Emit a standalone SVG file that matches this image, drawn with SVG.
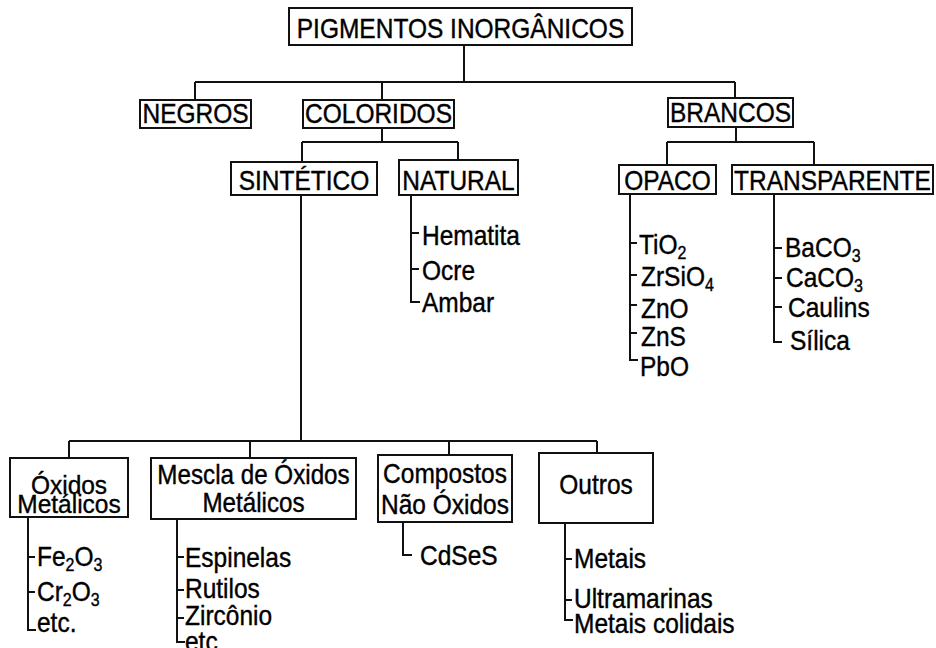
<svg xmlns="http://www.w3.org/2000/svg" width="936" height="648" viewBox="0 0 936 648">
<style>
.box{fill:#fff;stroke:#111;stroke-width:2}
.ln{fill:none;stroke:#111;stroke-width:2}
text{font-family:"Liberation Sans",Arial,sans-serif;font-size:24.5px;fill:#000;stroke:#000;stroke-width:0.35}
.c{text-anchor:middle}
.s{font-size:16px}
</style>
<rect width="936" height="648" fill="#fff"/>
<g id="connectors" class="ln">
<path d="M464,45V82M195,82H735M195,82V100M382,82V100M735,82V98"/>
<path d="M382,128V142M302,142H458M302,142V162M458,142V160"/>
<path d="M736,127V142M667,142H814M667,142V165M814,142V165"/>
<path d="M411,195V302H420M411,233H419M411,269H419"/>
<path d="M630,194V360H638M630,243H637M630,275H637M630,305H637M630,333H637"/>
<path d="M774,194V342H782M774,248H782M774,278H782M774,307H782"/>
<path d="M301,195V441M69,441H597M69,441V458M250,441V458M449,441V455M597,441V453"/>
<path d="M28,517V630H36M28,557H35M28,592H35"/>
<path d="M177,519V642H185M177,557H184M177,590H184M177,618H184"/>
<path d="M403,522V555H412"/>
<path d="M565,523V620H573M565,559H572M565,600H572"/>
</g>
<g id="pigmentos">
<rect class="box" x="289" y="8" width="343" height="37"/>
<text class="c" transform="matrix(1 0 0 1.13 460.5 38)">PIGMENTOS INORGÂNICOS</text>
</g>
<g id="negros">
<rect class="box" x="140" y="100" width="111" height="28"/>
<text class="c" transform="matrix(1 0 0 1.13 195.5 123)">NEGROS</text>
</g>
<g id="coloridos">
<rect class="box" x="303" y="100" width="151" height="28"/>
<text class="c" transform="matrix(1 0 0 1.13 378.5 123)">COLORIDOS</text>
</g>
<g id="brancos">
<rect class="box" x="668" y="98" width="125" height="29"/>
<text class="c" transform="matrix(1 0 0 1.13 730.5 122)">BRANCOS</text>
</g>
<g id="sintetico">
<rect class="box" x="231" y="162" width="146" height="33"/>
<text class="c" transform="matrix(1 0 0 1.13 304 190)">SINTÉTICO</text>
</g>
<g id="natural">
<rect class="box" x="399" y="160" width="119" height="35"/>
<text class="c" transform="matrix(1 0 0 1.13 458.5 190)">NATURAL</text>
<text transform="matrix(1 0 0 1.13 422 245)">Hematita</text>
<text transform="matrix(1 0 0 1.13 422 280)">Ocre</text>
<text transform="matrix(1 0 0 1.13 422 312)">Ambar</text>
</g>
<g id="opaco">
<rect class="box" x="619" y="165" width="97" height="29"/>
<text class="c" transform="matrix(1 0 0 1.13 667.5 190)">OPACO</text>
<text transform="matrix(1 0 0 1.13 639 254)">TiO<tspan class="s" dy="4.5">2</tspan></text>
<text transform="matrix(1 0 0 1.13 641 286)">ZrSiO<tspan class="s" dy="4.5">4</tspan></text>
<text transform="matrix(1 0 0 1.13 641 318)">ZnO</text>
<text transform="matrix(1 0 0 1.13 641 346)">ZnS</text>
<text transform="matrix(1 0 0 1.13 640 376)">PbO</text>
</g>
<g id="transparente">
<rect class="box" x="732" y="165" width="201" height="29"/>
<text class="c" transform="matrix(1 0 0 1.13 832.5 190)">TRANSPARENTE</text>
<text transform="matrix(1 0 0 1.13 785 257)">BaCO<tspan class="s" dy="4.5">3</tspan></text>
<text transform="matrix(1 0 0 1.13 786 287)">CaCO<tspan class="s" dy="4.5">3</tspan></text>
<text transform="matrix(1 0 0 1.13 788 317)">Caulins</text>
<text transform="matrix(1 0 0 1.13 790 350)">Sílica</text>
</g>
<g id="oxidos">
<rect class="box" x="10" y="458" width="118" height="59"/>
<text class="c" transform="matrix(1 0 0 1.06 69 494)">Óxidos</text>
<text class="c" transform="matrix(1 0 0 1.06 69 513)">Metálicos</text>
<text transform="matrix(1 0 0 1.13 37 566)">Fe<tspan class="s" dy="4.5">2</tspan><tspan dy="-4.5">O</tspan><tspan class="s" dy="4.5">3</tspan></text>
<text transform="matrix(1 0 0 1.13 37 601)">Cr<tspan class="s" dy="4.5">2</tspan><tspan dy="-4.5">O</tspan><tspan class="s" dy="4.5">3</tspan></text>
<text transform="matrix(1 0 0 1.13 37 632)">etc.</text>
</g>
<g id="mescla">
<rect class="box" x="151" y="458" width="205" height="61"/>
<text class="c" transform="matrix(1 0 0 1.13 253.5 484)" style="font-size:24.2px">Mescla de Óxidos</text>
<text class="c" transform="matrix(1 0 0 1.13 253.5 512)" style="font-size:24.2px">Metálicos</text>
<text transform="matrix(1 0 0 1.13 185 567)">Espinelas</text>
<text transform="matrix(1 0 0 1.13 185 598)">Rutilos</text>
<text transform="matrix(1 0 0 1.13 185 625)">Zircônio</text>
<text transform="matrix(1 0 0 1.13 185 651)">etc</text>
</g>
<g id="compostos">
<rect class="box" x="378" y="455" width="134" height="67"/>
<text class="c" transform="matrix(1 0 0 1.13 445 483)">Compostos</text>
<text class="c" transform="matrix(1 0 0 1.13 445 514)">Não Óxidos</text>
<text transform="matrix(1 0 0 1.13 420 565)">CdSeS</text>
</g>
<g id="outros">
<rect class="box" x="539" y="453" width="114" height="70"/>
<text class="c" transform="matrix(1 0 0 1.13 596 494)">Outros</text>
<text transform="matrix(1 0 0 1.13 574 568)">Metais</text>
<text transform="matrix(1 0 0 1.13 574 608)">Ultramarinas</text>
<text transform="matrix(1 0 0 1.13 574 633)">Metais colidais</text>
</g>
</svg>
